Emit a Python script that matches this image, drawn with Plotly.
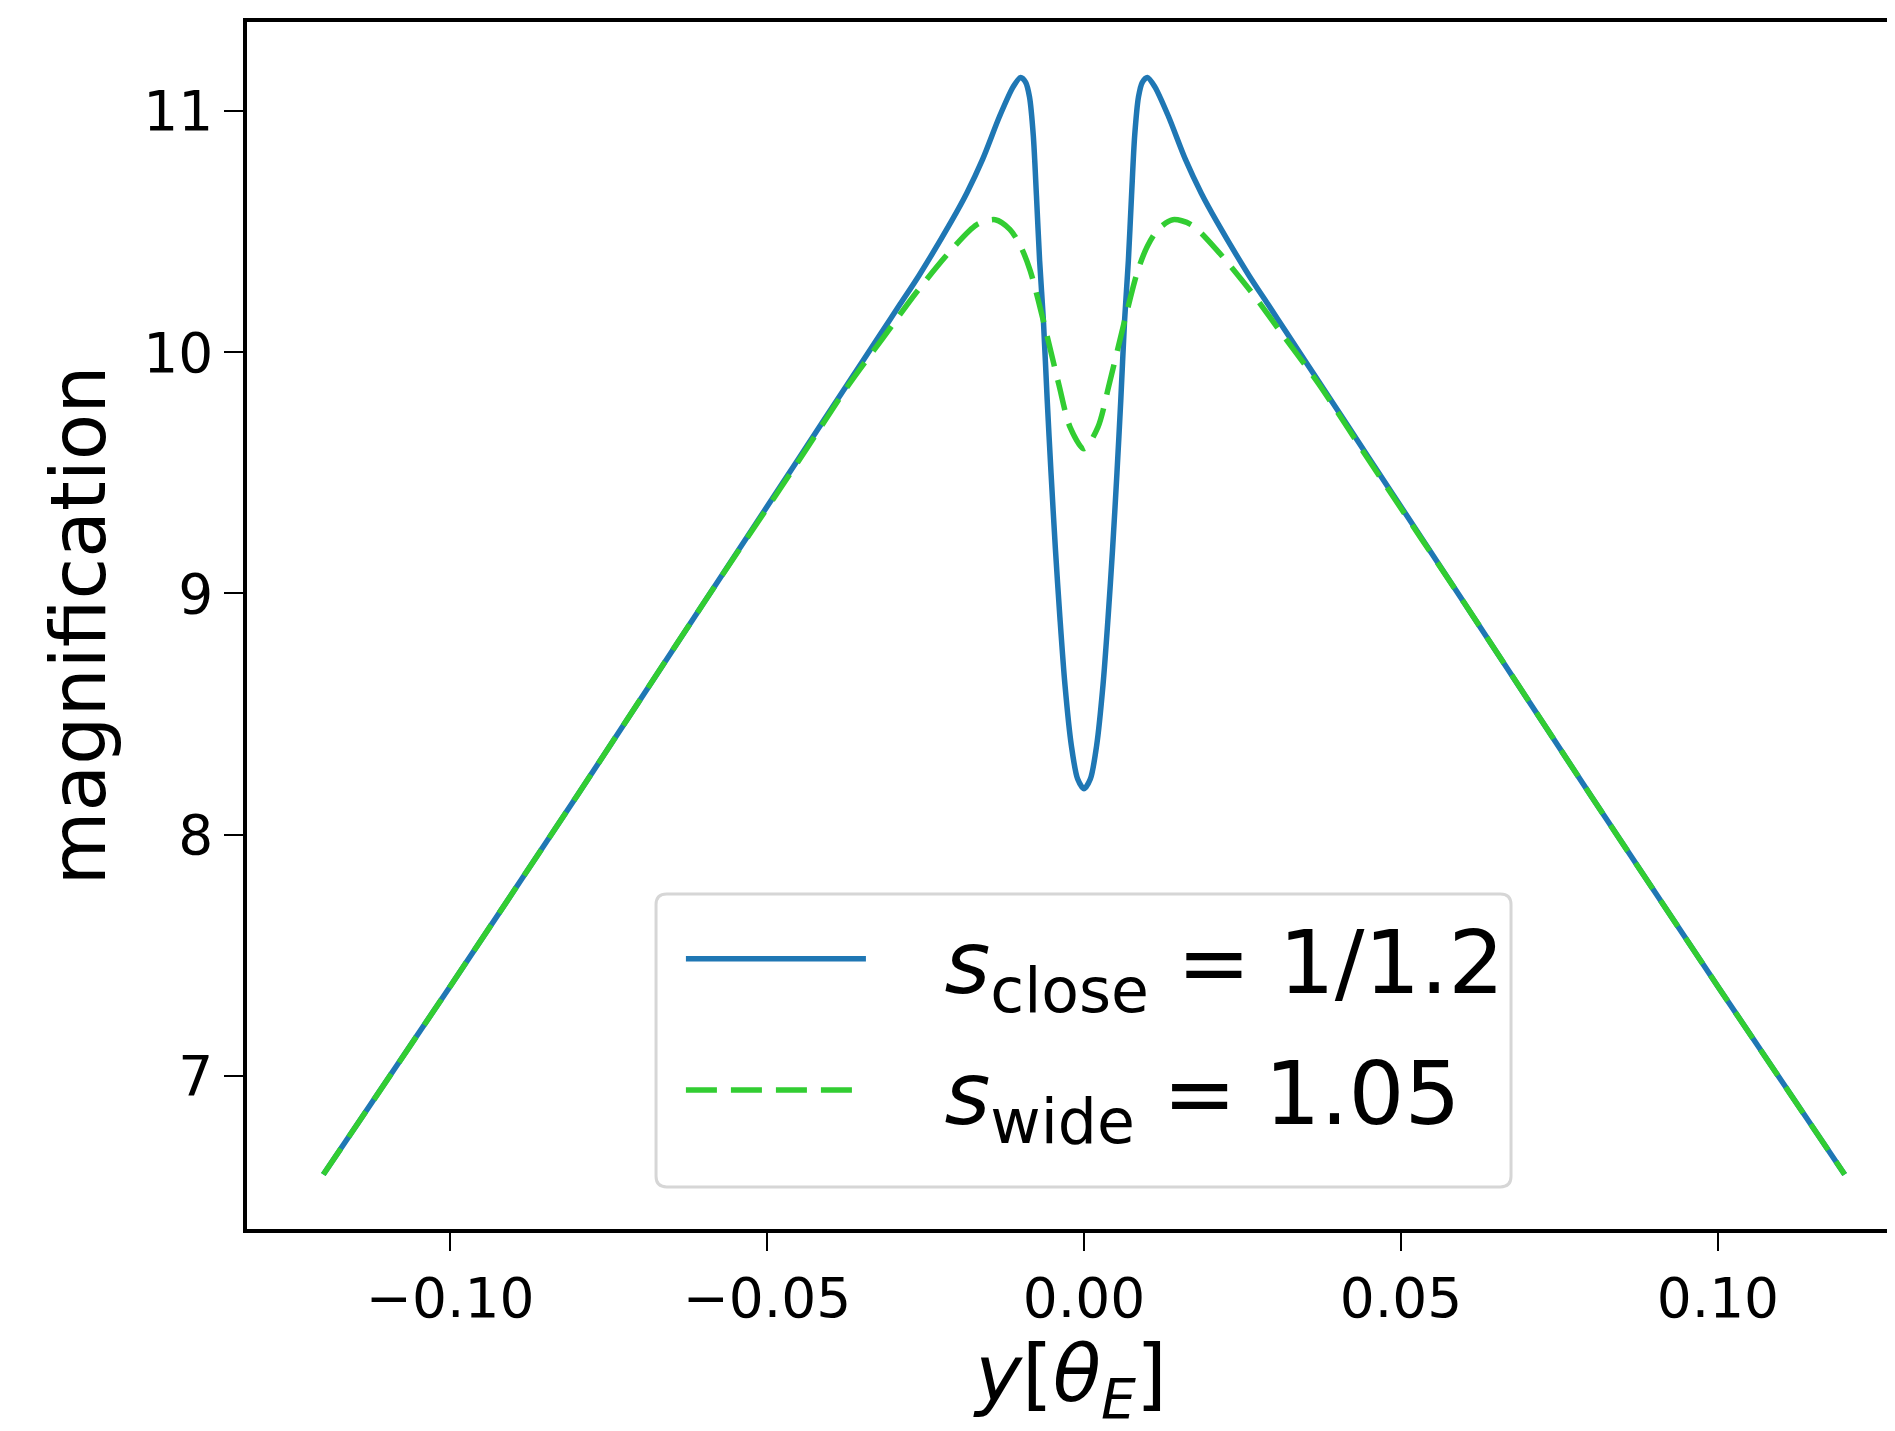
import plotly.graph_objects as go

# ---- data ----
x_close = [-0.120, -0.100, -0.080, -0.060, -0.045, -0.037, -0.032, -0.029, -0.026, -0.021,
           -0.0185, -0.016, -0.0133, -0.0112, -0.0100, -0.0092, -0.0086, -0.0080, -0.0075,
           -0.0070, -0.0064, -0.0058, -0.0052, -0.0045, -0.0038, -0.0030, -0.0020, -0.0010,
           0.0,
           0.0010, 0.0020, 0.0030, 0.0038, 0.0045, 0.0052, 0.0058, 0.0064, 0.0070, 0.0075,
           0.0080, 0.0086, 0.0092, 0.0100, 0.0112, 0.0133, 0.016, 0.0185, 0.021, 0.026,
           0.029, 0.032, 0.037, 0.045, 0.060, 0.080, 0.100, 0.120]
y_close = [6.59, 7.37, 8.16, 8.96, 9.56, 9.88, 10.08, 10.20, 10.32, 10.54,
           10.66, 10.80, 10.98, 11.10, 11.14, 11.12, 11.06, 10.90, 10.65,
           10.38, 10.13, 9.80, 9.50, 9.18, 8.90, 8.62, 8.37, 8.23,
           8.19,
           8.23, 8.37, 8.62, 8.90, 9.18, 9.50, 9.80, 10.13, 10.38, 10.65,
           10.90, 11.06, 11.12, 11.14, 11.10, 10.98, 10.80, 10.66, 10.54, 10.32,
           10.20, 10.08, 9.88, 9.56, 8.96, 8.16, 7.37, 6.59]

x_wide = [-0.120, -0.100, -0.080, -0.060, -0.045, -0.037, -0.0317, -0.0264, -0.0211,
          -0.0169, -0.0140, -0.0117, -0.0100, -0.0085, -0.0064, -0.0040, -0.0022, 0.0,
          0.0022, 0.0040, 0.0064, 0.0085, 0.0100, 0.0117, 0.0140, 0.0169, 0.0211,
          0.0264, 0.0317, 0.037, 0.045, 0.060, 0.080, 0.100, 0.120]
y_wide = [6.59, 7.37, 8.16, 8.96, 9.55, 9.87, 10.06, 10.25, 10.42,
          10.53, 10.55, 10.51, 10.44, 10.34, 10.13, 9.87, 9.69, 9.60,
          9.69, 9.87, 10.13, 10.34, 10.44, 10.51, 10.55, 10.53, 10.42,
          10.25, 10.06, 9.87, 9.55, 8.96, 8.16, 7.37, 6.59]

x_ticks = [-0.10, -0.05, 0.00, 0.05, 0.10]
y_ticks = [7, 8, 9, 10, 11]

FONT = "DejaVu Sans"
PAD = "\u00a0\u00a0\u2009"

fig = go.Figure()
fig.add_trace(go.Scatter(
    x=x_close, y=y_close, mode="lines", legendgroup="close",
    line=dict(color="#1f77b4", width=5.5, shape="spline", smoothing=0.8),
    name=PAD + "<i>s</i><sub>close</sub> = 1/1.2",
))
fig.add_trace(go.Scatter(
    x=x_wide, y=y_wide, mode="lines", legendgroup="wide",
    line=dict(color="#32cd32", width=5.5, dash="31px,14px", shape="spline", smoothing=0.8),
    name=PAD + "<i>s</i><sub>wide</sub> = 1.05",
))

# rounded legend frame (matplotlib style)
lx0, lx1, ly0, ly1 = 0.2482, 0.7670, 0.0348, 0.2775
rx, ry = 0.0065, 0.0088
frame = (f"M {lx0+rx},{ly1} L {lx1-rx},{ly1} Q {lx1},{ly1} {lx1},{ly1-ry} "
         f"L {lx1},{ly0+ry} Q {lx1},{ly0} {lx1-rx},{ly0} L {lx0+rx},{ly0} "
         f"Q {lx0},{ly0} {lx0},{ly0+ry} L {lx0},{ly1-ry} Q {lx0},{ly1} {lx0+rx},{ly1} Z")
fig.add_shape(type="path", path=frame, xref="paper", yref="paper",
              line=dict(color="#d6d6d6", width=3), fillcolor="rgba(255,255,255,0.9)",
              layer="above")

fig.update_layout(
    width=1887, height=1423,
    margin=dict(l=239, r=0, t=14, b=202),
    paper_bgcolor="white", plot_bgcolor="white",
    font=dict(family=FONT, color="black"),
    showlegend=True,
    legend=dict(
        x=0.2633, y=0.2767, xanchor="left", yanchor="top",
        bgcolor="rgba(0,0,0,0)", borderwidth=0,
        font=dict(family=FONT, size=88, color="black"),
        itemwidth=180, tracegroupgap=14, traceorder="grouped",
    ),
)
fig.update_xaxes(
    range=[-0.13204, 0.12794],
    tickvals=x_ticks, tickformat=".2f",
    showgrid=False, zeroline=False,
    showline=True, linecolor="black", linewidth=3.5, mirror=True,
    ticks="outside", ticklen=18, tickwidth=2, tickcolor="black",
    tickfont=dict(family=FONT, size=55, color="black"),
    title=dict(text="\u00a0<i>y</i>[<i>θ</i><sub><i>E</i></sub>]",
               font=dict(family=FONT, size=79, color="black"), standoff=41),
)
fig.update_yaxes(
    range=[6.364, 11.370],
    tickvals=y_ticks,
    showgrid=False, zeroline=False,
    showline=True, linecolor="black", linewidth=3.5, mirror=False,
    ticks="outside", ticklen=19, tickwidth=2, tickcolor="black",
    tickfont=dict(family=FONT, size=55, color="black"),
    title=dict(text="magnification",
               font=dict(family=FONT, size=76, color="black"), standoff=14),
)

fig.write_html("out.html")
